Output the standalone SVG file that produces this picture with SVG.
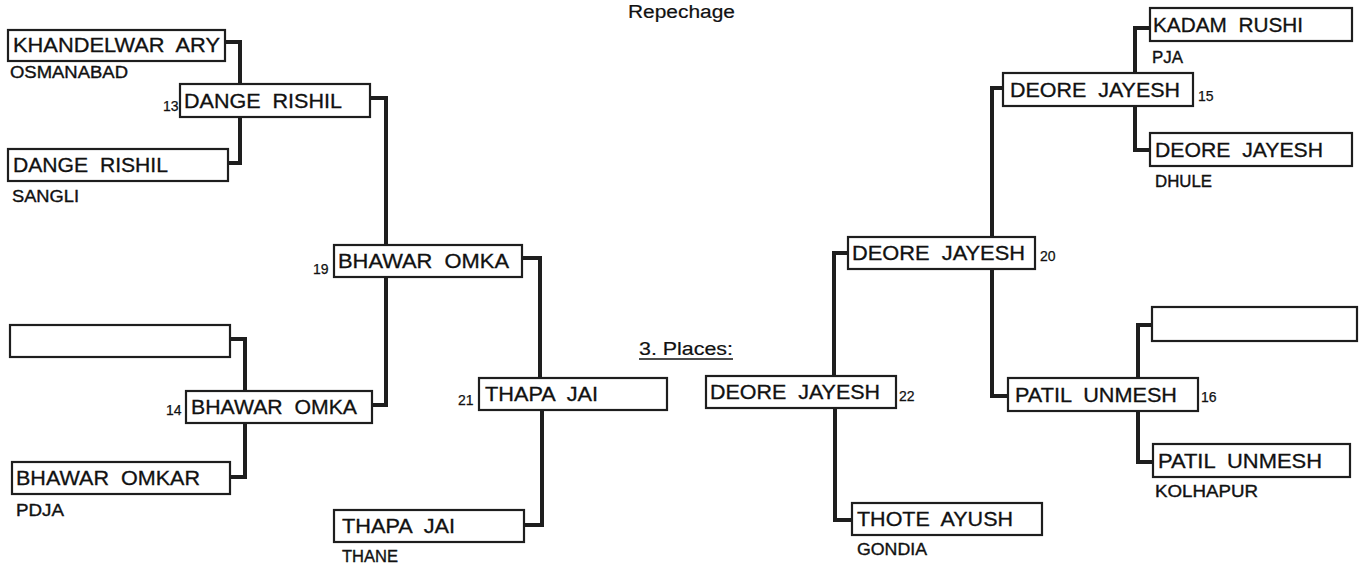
<svg xmlns="http://www.w3.org/2000/svg" width="1367" height="566" viewBox="0 0 1367 566">
<style>
text{white-space:pre}
.box{fill:#fff;stroke:#1e1e1e;stroke-width:2.2}
.con{fill:none;stroke:#1e1e1e;stroke-width:4;stroke-linejoin:miter}
.name{font-family:"Liberation Sans",Arial,sans-serif;font-size:20px;fill:#111;stroke:#111;stroke-width:0.3}
.lbl{font-family:"Liberation Sans",Arial,sans-serif;font-size:16px;fill:#111;stroke:#111;stroke-width:0.35}
.num{font-family:"Liberation Sans",Arial,sans-serif;font-size:14px;fill:#111;stroke:#111;stroke-width:0.25}
.title{font-family:"Liberation Sans",Arial,sans-serif;font-size:18px;fill:#111;stroke:#111;stroke-width:0.2}
</style>
<rect width="1367" height="566" fill="#fff"/>
<text class="title" x="628" y="18" textLength="107" lengthAdjust="spacingAndGlyphs">Repechage</text>
<g id="places-title">
<text class="title" x="639" y="355" textLength="94" lengthAdjust="spacingAndGlyphs">3. Places:</text>
<line x1="639" y1="359" x2="733" y2="359" stroke="#111" stroke-width="1.4"/>
</g>
<g id="connectors">
<path class="con" d="M225,42 H240 V84"/>
<path class="con" d="M228,163 H240 V117"/>
<path class="con" d="M370,98 H386 V245"/>
<path class="con" d="M372,405 H386 V277"/>
<path class="con" d="M230,339 H245 V391"/>
<path class="con" d="M230,477 H245 V423"/>
<path class="con" d="M522,258 H540 V378"/>
<path class="con" d="M524,525 H542 V410"/>
<path class="con" d="M834,376 V253 H848"/>
<path class="con" d="M835,408 V520 H852"/>
<path class="con" d="M992,237 V88 H1003"/>
<path class="con" d="M992,269 V396 H1008"/>
<path class="con" d="M1135,73 V28 H1150"/>
<path class="con" d="M1135,106 V150 H1150"/>
<path class="con" d="M1138,378 V325 H1152"/>
<path class="con" d="M1138,411 V462 H1153"/>
</g>
<g id="n-khandelwar">
<rect class="box" x="8" y="30" width="217" height="31"/>
<text class="name" x="13" y="52" textLength="207" lengthAdjust="spacingAndGlyphs">KHANDELWAR  ARY</text>
<text class="lbl" x="10" y="78" textLength="118" lengthAdjust="spacingAndGlyphs">OSMANABAD</text>
</g>
<g id="n-13">
<rect class="box" x="180" y="84" width="190" height="33"/>
<text class="name" x="184" y="108" textLength="158" lengthAdjust="spacingAndGlyphs">DANGE  RISHIL</text>
<text class="num" x="163" y="111">13</text>
</g>
<g id="n-dange">
<rect class="box" x="8" y="149" width="220" height="32"/>
<text class="name" x="13" y="172" textLength="155" lengthAdjust="spacingAndGlyphs">DANGE  RISHIL</text>
<text class="lbl" x="12" y="202" textLength="67" lengthAdjust="spacingAndGlyphs">SANGLI</text>
</g>
<g id="n-19">
<rect class="box" x="334" y="245" width="188" height="32"/>
<text class="name" x="338" y="268" textLength="171" lengthAdjust="spacingAndGlyphs">BHAWAR  OMKA</text>
<text class="num" x="313" y="274">19</text>
</g>
<g id="n-empty-left">
<rect class="box" x="10" y="325" width="220" height="32"/>
</g>
<g id="n-14">
<rect class="box" x="186" y="391" width="186" height="32"/>
<text class="name" x="191" y="414" textLength="166" lengthAdjust="spacingAndGlyphs">BHAWAR  OMKA</text>
<text class="num" x="166" y="415">14</text>
</g>
<g id="n-bhawar">
<rect class="box" x="12" y="462" width="218" height="32"/>
<text class="name" x="16" y="485" textLength="184" lengthAdjust="spacingAndGlyphs">BHAWAR  OMKAR</text>
<text class="lbl" x="16" y="516" textLength="48" lengthAdjust="spacingAndGlyphs">PDJA</text>
</g>
<g id="n-thapa">
<rect class="box" x="334" y="510" width="190" height="32"/>
<text class="name" x="342" y="533" textLength="113" lengthAdjust="spacingAndGlyphs">THAPA  JAI</text>
<text class="lbl" x="342" y="562" textLength="56" lengthAdjust="spacingAndGlyphs">THANE</text>
</g>
<g id="n-21">
<rect class="box" x="479" y="378" width="188" height="32"/>
<text class="name" x="485" y="401" textLength="113" lengthAdjust="spacingAndGlyphs">THAPA  JAI</text>
<text class="num" x="458" y="405">21</text>
</g>
<g id="n-22">
<rect class="box" x="706" y="376" width="190" height="32"/>
<text class="name" x="710" y="399" textLength="170" lengthAdjust="spacingAndGlyphs">DEORE  JAYESH</text>
<text class="num" x="899" y="401">22</text>
</g>
<g id="n-20">
<rect class="box" x="848" y="237" width="187" height="32"/>
<text class="name" x="852" y="260" textLength="173" lengthAdjust="spacingAndGlyphs">DEORE  JAYESH</text>
<text class="num" x="1040" y="261">20</text>
</g>
<g id="n-thote">
<rect class="box" x="852" y="503" width="190" height="32"/>
<text class="name" x="857" y="526" textLength="156" lengthAdjust="spacingAndGlyphs">THOTE  AYUSH</text>
<text class="lbl" x="857" y="555" textLength="70" lengthAdjust="spacingAndGlyphs">GONDIA</text>
</g>
<g id="n-15">
<rect class="box" x="1003" y="73" width="190" height="33"/>
<text class="name" x="1010" y="97" textLength="170" lengthAdjust="spacingAndGlyphs">DEORE  JAYESH</text>
<text class="num" x="1198" y="101">15</text>
</g>
<g id="n-kadam">
<rect class="box" x="1150" y="8" width="202" height="33"/>
<text class="name" x="1153" y="32" textLength="150" lengthAdjust="spacingAndGlyphs">KADAM  RUSHI</text>
<text class="lbl" x="1152" y="63" textLength="31" lengthAdjust="spacingAndGlyphs">PJA</text>
</g>
<g id="n-deore">
<rect class="box" x="1150" y="133" width="202" height="33"/>
<text class="name" x="1155" y="157" textLength="168" lengthAdjust="spacingAndGlyphs">DEORE  JAYESH</text>
<text class="lbl" x="1155" y="187" textLength="57" lengthAdjust="spacingAndGlyphs">DHULE</text>
</g>
<g id="n-empty-right">
<rect class="box" x="1152" y="307" width="205" height="34"/>
</g>
<g id="n-16">
<rect class="box" x="1008" y="378" width="190" height="33"/>
<text class="name" x="1015" y="402" textLength="162" lengthAdjust="spacingAndGlyphs">PATIL  UNMESH</text>
<text class="num" x="1201" y="402">16</text>
</g>
<g id="n-patil">
<rect class="box" x="1153" y="444" width="197" height="33"/>
<text class="name" x="1158" y="468" textLength="164" lengthAdjust="spacingAndGlyphs">PATIL  UNMESH</text>
<text class="lbl" x="1155" y="497" textLength="103" lengthAdjust="spacingAndGlyphs">KOLHAPUR</text>
</g>
</svg>
